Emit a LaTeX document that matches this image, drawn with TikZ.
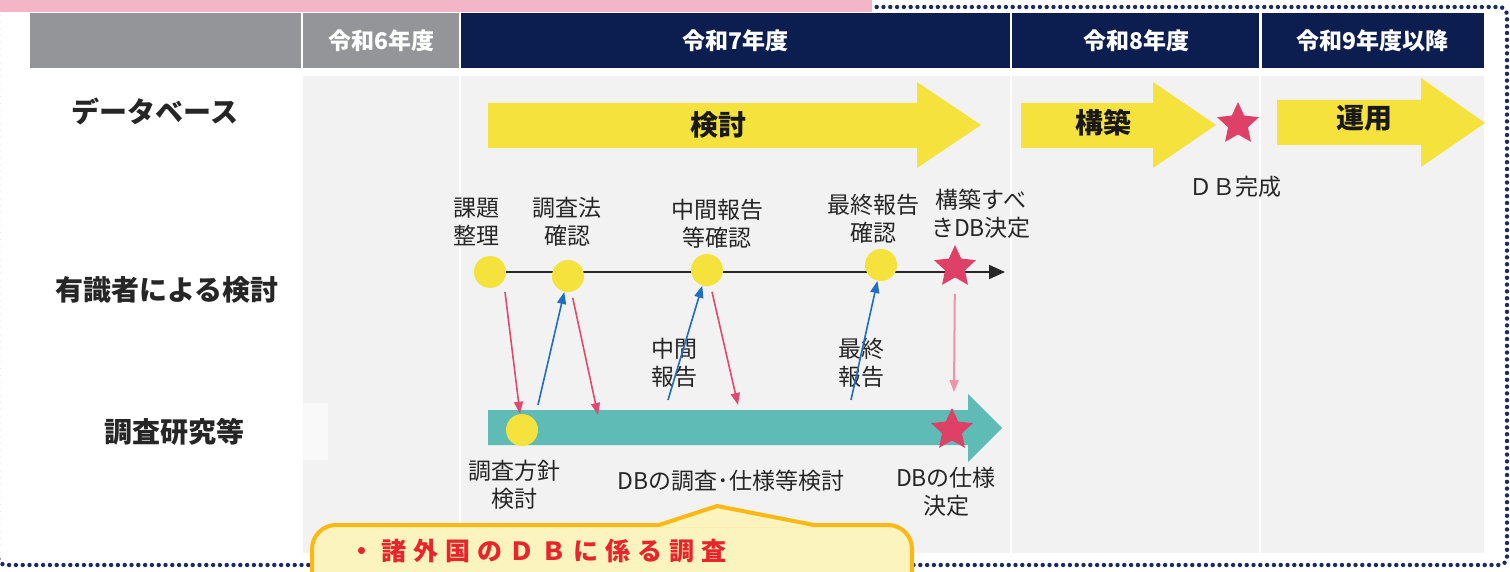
\documentclass[tikz,border=0pt]{standalone}
\usepackage{fontspec}
\setmainfont{Noto Sans CJK JP}
\usetikzlibrary{arrows.meta,shapes.geometric,positioning}
\definecolor{hdrgray}{HTML}{939598}
\definecolor{hdrnavy}{HTML}{0C1E4F}
\definecolor{bodygray}{HTML}{F2F2F2}
\definecolor{baryellow}{HTML}{F6E23C}
\definecolor{barteal}{HTML}{5EBBB6}
\definecolor{starpink}{HTML}{DF4068}
\definecolor{arrpink}{HTML}{E04A70}
\definecolor{lightpink}{HTML}{EE93AB}
\definecolor{arrblue}{HTML}{1F6EC0}
\definecolor{bannerpink}{HTML}{F3B6C6}
\definecolor{dotnavy}{HTML}{1C2A66}
\definecolor{notefill}{HTML}{FCF4BF}
\definecolor{noteline}{HTML}{FDB813}
\definecolor{notered}{HTML}{E8252B}

\begin{document}
\begin{tikzpicture}[x=0.5pt,y=-0.5pt,
  hdr/.style={font=\bfseries\fontsize{11.5}{13}\selectfont, text=white},
  rowlbl/.style={font=\bfseries\fontsize{14}{16}\selectfont, text=black!85},
  lbl/.style={font=\fontsize{11.5}{14}\selectfont, align=center, text=black!85},
  bartext/.style={font=\bfseries\fontsize{14}{16}\selectfont, text=black!90},
  ydot/.style={circle, fill=baryellow, minimum size=16pt, inner sep=0pt},
  pstar/.style={star, star points=5, star point ratio=2.1, fill=starpink, minimum size=22pt, inner sep=0pt},
  pinkarr/.style={draw=arrpink, line width=0.8pt, -{Triangle[length=6pt,width=4.5pt]}},
  bluearr/.style={draw=arrblue, line width=0.8pt, -{Triangle[length=6pt,width=4.5pt]}},
  lightarr/.style={draw=lightpink, line width=1pt, -{Triangle[length=6pt,width=4.5pt]}},
  notetext/.style={font=\bfseries\fontsize{12.5}{14}\selectfont\addfontfeature{LetterSpace=28}, text=notered}]
\useasboundingbox (0,0) rectangle (1510,572);
\clip (0,0) rectangle (1510,572);

% frame
\draw[dotnavy, line width=2.2pt, line cap=round, dash pattern=on 0pt off 3.4pt, rounded corners=4pt] (-2,7) rectangle (1507,565);
\fill[bannerpink] (0,-5) rectangle (872,12);

% header row
\fill[hdrgray] (30,13) rectangle (301,68);
\fill[hdrgray] (303,13) rectangle (459,68);
\fill[hdrnavy] (461,13) rectangle (1010,68);
\fill[hdrnavy] (1012,13) rectangle (1259,68);
\fill[hdrnavy] (1262,13) rectangle (1484,68);
\node[hdr] (y6) at (381,41) {令和6年度};
\node[hdr] (y7) at (735,41) {令和7年度};
\node[hdr] (y8) at (1136,41) {令和8年度};
\node[hdr] (y9) at (1372,41) {令和9年度以降};

% body
\fill[bodygray] (303,76) rectangle (1484,553);
\foreach \sx in {460,1011,1260}
  \draw[white, line width=1pt] (\sx,76) -- (\sx,553);
\fill[white, opacity=.6] (303,403) rectangle (328,460);

\node[rowlbl] (db) at (155,111) {データベース};
\node[rowlbl] (yushiki) at (167,290) {有識者による検討};
\node[rowlbl] (kenkyu) at (174,432) {調査研究等};

% database row
\fill[baryellow] (488,103) -- (917,103) -- (917,82) -- (981,125) -- (917,168) -- (917,148) -- (488,148) -- cycle;
\node[bartext] (kento) at (718,125) {検討};
\fill[baryellow] (1021,103) -- (1153,103) -- (1153,82) -- (1216,125) -- (1153,168) -- (1153,148) -- (1021,148) -- cycle;
\node[bartext] (kochiku) at (1103,123) {構築};
\node[pstar] (dbdone) at (1238,124) {};
\node[lbl] (dbdonelbl) at (1235,187) {ＤＢ完成};
\fill[baryellow] (1277,100) -- (1421,100) -- (1421,78) -- (1485,123) -- (1421,167) -- (1421,145) -- (1277,145) -- cycle;
\node[bartext] (unyo) at (1364,118) {運用};

% expert row
\coordinate (tl0) at (490,272);
\coordinate (tl1) at (1005,272);
\draw[black!85, line width=1pt, -{Triangle[length=8pt,width=7pt]}] (tl0) -- (tl1);
\node[ydot] (kadai) at (490,272) {};
\node[ydot] (kakunin) at (568,276) {};
\node[ydot] (chukan) at (707,270) {};
\node[ydot] (saishu) at (881,265) {};
\node[pstar] (kettei) at (955,267) {};
\node[lbl] (kadailbl) at (476,222) {課題\\整理};
\node[lbl] (kakuninlbl) at (567,222) {調査法\\確認};
\node[lbl] (chukanlbl) at (717,224) {中間報告\\等確認};
\node[lbl] (saishulbl) at (873,219) {最終報告\\確認};
\node[lbl] (ketteilbl) at (981,214) {構築すべ\\きDB決定};

% research row
\fill[barteal] (488,410) -- (968,410) -- (968,394) -- (1002,428) -- (968,462) -- (968,445) -- (488,445) -- cycle;
\node[ydot] (hoshin) at (522,430) {};
\node[pstar] (shiyo) at (952,430) {};
\node[lbl] (hoshinlbl) at (514,485) {調査方針\\検討};
\node[lbl] (chosalbl) at (731,481) {DBの調査･仕様等検討};
\node[lbl] (shiyolbl) at (946,492) {DBの仕様\\決定};
\node[lbl] (chukanrep) at (674,363) {中間\\報告};
\node[lbl] (saishurep) at (861,363) {最終\\報告};

% links between rows
\coordinate (p1) at (505,292);
\coordinate (b1) at (538,405);
\coordinate (p2) at (598,415);
\coordinate (b2) at (668,400);
\coordinate (p3) at (738,405);
\coordinate (b3) at (851,400);
\coordinate (p4) at (954,392);
\draw[pinkarr] (p1) -- (hoshin);
\draw[bluearr] (b1) -- (kakunin);
\draw[pinkarr, shorten <=3pt] (kakunin) -- (p2);
\draw[bluearr] (b2) -- (chukan);
\draw[pinkarr, shorten <=3pt] (chukan) -- (p3);
\draw[bluearr] (b3) -- (saishu);
\draw[lightarr, shorten <=8pt] (kettei) -- (p4);

% note
\draw[noteline, fill=notefill, line width=2pt, rounded corners=12pt] (312,525) rectangle (912,620);
\fill[notefill] (659,527) -- (717,506) -- (814,527) -- cycle;
\draw[noteline, line width=2pt, line join=round] (659,525) -- (717,506) -- (814,525);
\node[notetext, anchor=west] (note1) at (342,551) {・諸外国のＤＢに係る調査};
\end{tikzpicture}
\end{document}
